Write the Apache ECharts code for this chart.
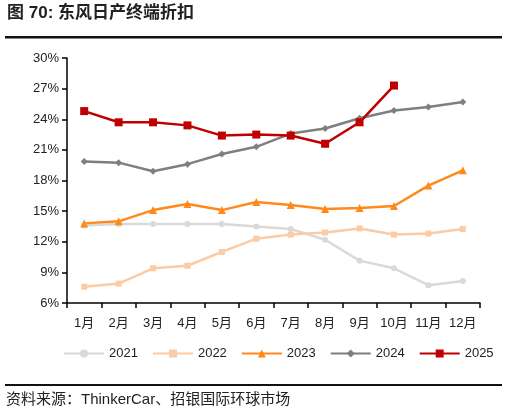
<!DOCTYPE html>
<html>
<head>
<meta charset="utf-8">
<script src="https://cdn.jsdelivr.net/npm/echarts@6/dist/echarts.min.js"></script>
<style>
  html, body { margin: 0; padding: 0; background: #fff; }
  #main { width: 513px; height: 417px; }
</style>
</head>
<body>
<div id="main"></div>
<script>
const months = ['1月', '2月', '3月', '4月', '5月', '6月', '7月', '8月', '9月', '10月', '11月', '12月']
const d2021 = [13.6, 13.75, 13.75, 13.75, 13.75, 13.5, 13.25, 12.2, 10.15, 9.4, 7.75, 8.15]
const d2022 = [7.6, 7.9, 9.4, 9.65, 11.0, 12.3, 12.7, 12.9, 13.3, 12.7, 12.8, 13.25]
const d2023 = [13.8, 14.0, 15.1, 15.7, 15.1, 15.9, 15.6, 15.2, 15.3, 15.5, 17.5, 19.0]
const d2024 = [19.85, 19.75, 18.9, 19.6, 20.6, 21.3, 22.6, 23.1, 24.1, 24.85, 25.2, 25.7]
const d2025 = [24.8, 23.7, 23.7, 23.4, 22.4, 22.5, 22.4, 21.6, 23.7, 27.3]

const font = '"Liberation Sans", "Noto Sans CJK SC", sans-serif'
const chart = echarts.init(document.getElementById('main'))

function line(name, data, color, symbol, size) {
    return {
        name: name,
        type: 'line',
        data: data,
        symbol: symbol,
        symbolSize: size,
        lineStyle: { color: color, width: 2.5 },
        itemStyle: { color: color },
        emphasis: { disabled: true }
    }
}

chart.setOption({
    animation: false,
    textStyle: { fontFamily: font },
    grid: { left: 67, right: 33, top: 58, bottom: 114 },
    graphic: [
        {
            type: 'text', left: 7, top: 5,
            style: { text: '图 70: 东风日产终端折扣', font: 'bold 17px ' + font, fill: '#222' }
        },
        {
            type: 'rect', shape: { x: 5, y: 36, width: 497, height: 2.5 },
            style: { fill: '#111' }
        },
        {
            type: 'rect', shape: { x: 5, y: 384, width: 497, height: 2 },
            style: { fill: '#111' }
        },
        {
            type: 'text', left: 6, top: 392,
            style: { text: '资料来源：ThinkerCar、招银国际环球市场', font: '15px ' + font, fill: '#222' }
        }
    ],
    legend: {
        bottom: 52,
        left: 58,
        itemWidth: 40,
        itemHeight: 10,
        itemGap: 14,
        textStyle: { fontSize: 13, color: '#222', fontFamily: font },
        data: ['2021', '2022', '2023', '2024', '2025']
    },
    xAxis: {
        type: 'category',
        data: months,
        boundaryGap: true,
        axisLine: { lineStyle: { color: '#000', width: 1.5 } },
        axisTick: { show: true, length: 5, lineStyle: { color: '#000', width: 1.5 } },
        axisLabel: { color: '#222', fontSize: 13, margin: 14, interval: 0 }
    },
    yAxis: {
        type: 'value',
        min: 6,
        max: 30,
        interval: 3,
        splitLine: { show: false },
        axisLine: { show: true, lineStyle: { color: '#000', width: 1.5 } },
        axisTick: { show: true, length: 5, lineStyle: { color: '#000', width: 1.5 } },
        axisLabel: { color: '#222', fontSize: 13, formatter: '{value}%', margin: 8 }
    },
    series: [
        line('2021', d2021, '#d9d9d9', 'circle', 6),
        line('2022', d2022, '#fbcba6', 'rect', 6),
        line('2023', d2023, '#ff8a1c', 'triangle', 8),
        line('2024', d2024, '#7f7f7f', 'diamond', 7),
        line('2025', d2025, '#c00000', 'rect', 8)
    ]
})
</script>
</body>
</html>
